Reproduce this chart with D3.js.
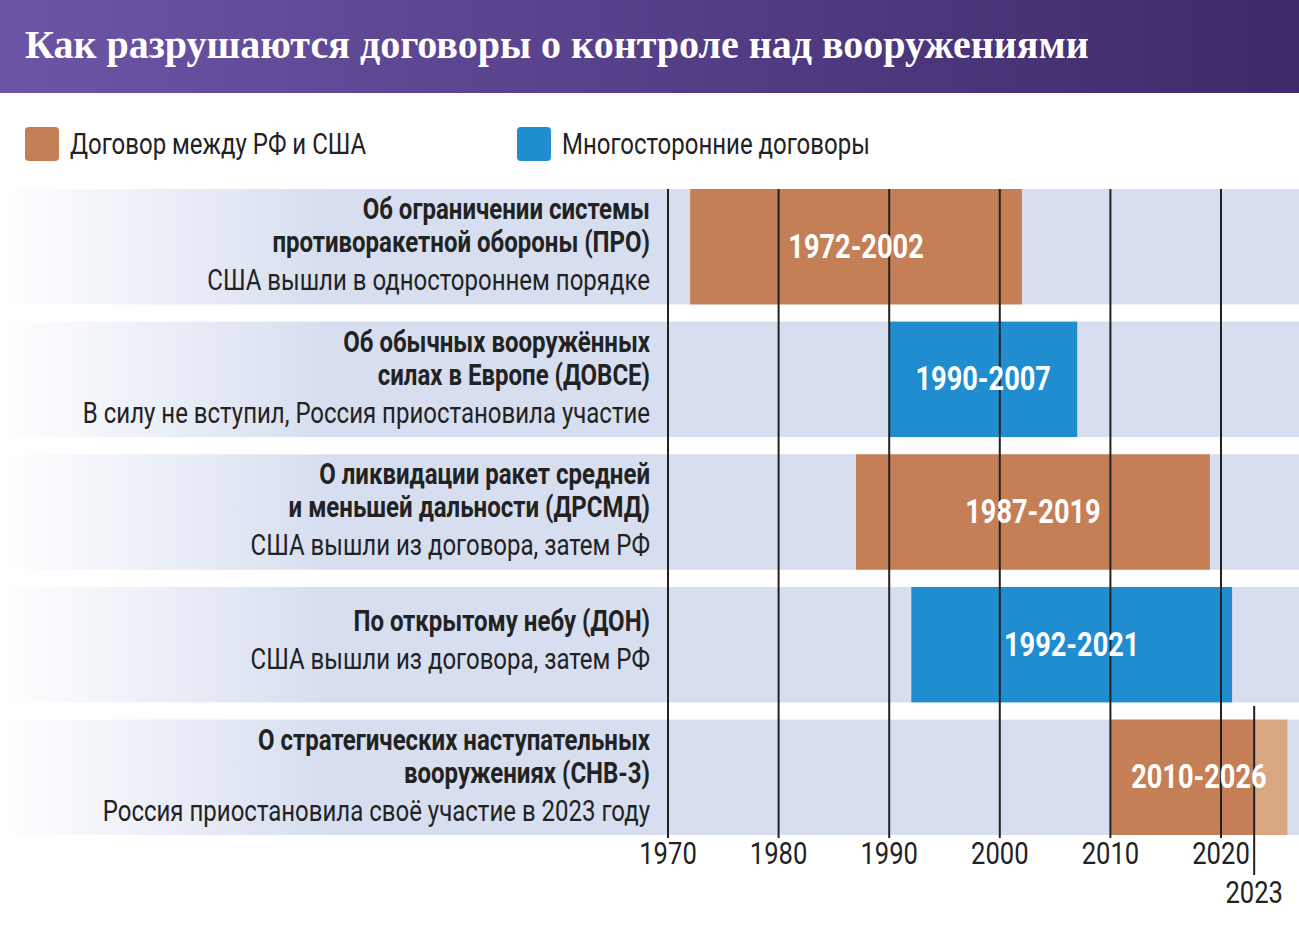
<!DOCTYPE html>
<html><head><meta charset="utf-8">
<script src="https://cdn.jsdelivr.net/npm/d3@7"></script>
<style>body{margin:0;background:#fff}svg{display:block}</style>
</head><body>
<svg id="chart" width="1299" height="934"></svg>
<script>
const treaties = [
    {title: ["Об ограничении системы", "противоракетной обороны (ПРО)"], note: "США вышли в одностороннем порядке", start: 1972, end: 2002, type: "bi"},
    {title: ["Об обычных вооружённых", "силах в Европе (ДОВСЕ)"], note: "В силу не вступил, Россия приостановила участие", start: 1990, end: 2007, type: "multi"},
    {title: ["О ликвидации ракет средней", "и меньшей дальности (ДРСМД)"], note: "США вышли из договора, затем РФ", start: 1987, end: 2019, type: "bi"},
    {title: ["По открытому небу (ДОН)"], note: "США вышли из договора, затем РФ", start: 1992, end: 2021, type: "multi"},
    {title: ["О стратегических наступательных", "вооружениях (СНВ-3)"], note: "Россия приостановила своё участие в 2023 году", start: 2010, end: 2026, suspended: 2023, type: "bi"}
];
const tickYears = [1970, 1980, 1990, 2000, 2010, 2020];
const markYear = 2023;
const legendItems = [
    {key: "bi", label: "Договор между РФ и США"},
    {key: "multi", label: "Многосторонние договоры"}
];
const colors = {bi: "#c47f56", multi: "#1f8dd0", faded: "#d9a883"};

const svg = d3.select("#chart");
const defs = svg.append("defs");

const tg = defs.append("linearGradient").attr("id", "titleGrad");
tg.append("stop").attr("offset", "0%").attr("stop-color", "#6c55a6");
tg.append("stop").attr("offset", "100%").attr("stop-color", "#3e2a6a");
const rg = defs.append("linearGradient").attr("id", "rowGrad")
    .attr("gradientUnits", "userSpaceOnUse").attr("x1", 0).attr("x2", 1299);
rg.append("stop").attr("offset", "0%").attr("stop-color", "#ffffff");
rg.append("stop").attr("offset", "25%").attr("stop-color", "#d6deef");
rg.append("stop").attr("offset", "100%").attr("stop-color", "#d6deef");

// title
svg.append("rect").attr("width", 1299).attr("height", 93).attr("fill", "url(#titleGrad)");
svg.append("text").attr("x", 25).attr("y", 58)
    .attr("fill", "#fff").style("font-family", "Liberation Serif").style("font-weight", "bold")
    .style("font-size", "40px")
    .text("Как разрушаются договоры о контроле над вооружениями");

// legend
const legend = svg.append("g");
legendItems.forEach((d, i) => {
    const gx = i === 0 ? 25 : 517;
    legend.append("rect").attr("x", gx).attr("y", 127).attr("width", 34).attr("height", 34)
        .attr("rx", 4).attr("fill", colors[d.key]);
    condText(legend, gx + 45, 154, d.label, 30, "normal", "#222", "start");
});

const x = d3.scaleLinear().domain([1970, 2020]).range([668, 1221]);
const y = d3.scaleBand().domain(d3.range(treaties.length)).range([189, 835]).paddingInner(0.13);

function condText(g, tx, ty, str, size, weight, fill, anchor) {
    return g.append("text")
        .attr("transform", `translate(${tx},${ty}) scale(0.8,1)`)
        .attr("text-anchor", anchor)
        .style("font-family", "Roboto").style("font-size", size + "px")
        .style("font-weight", weight).attr("fill", fill).text(str);
}

// row backgrounds
svg.append("g").selectAll("rect").data(treaties).join("rect")
    .attr("x", 10).attr("width", 1289)
    .attr("y", (d, i) => y(i)).attr("height", y.bandwidth())
    .attr("fill", "url(#rowGrad)");

// bars
const bars = svg.append("g");
treaties.forEach((d, i) => {
    const stop = d.suspended || d.end;
    bars.append("rect").attr("x", x(d.start)).attr("y", y(i))
        .attr("width", x(stop) - x(d.start)).attr("height", y.bandwidth())
        .attr("fill", colors[d.type]);
    if (d.suspended) {
        bars.append("rect").attr("x", x(d.suspended)).attr("y", y(i))
            .attr("width", x(d.end) - x(d.suspended)).attr("height", y.bandwidth())
            .attr("fill", colors.faded);
    }
});

// gridlines
const grid = svg.append("g");
tickYears.forEach(t => {
    grid.append("line").attr("x1", x(t)).attr("x2", x(t))
        .attr("y1", 189).attr("y2", 838).attr("stroke", "#222").attr("stroke-width", 2);
    condText(grid, x(t), 864, t, 32, "normal", "#222", "middle");
});
grid.append("line").attr("x1", x(markYear)).attr("x2", x(markYear))
    .attr("y1", 706).attr("y2", 875).attr("stroke", "#222").attr("stroke-width", 2);
condText(grid, x(markYear), 903, markYear, 32, "normal", "#222", "middle");

// bar labels
treaties.forEach((d, i) => {
    condText(svg, (x(d.start) + x(d.end)) / 2, y(i) + y.bandwidth() / 2 + 11,
        `${d.start}-${d.end}`, 34, "bold", "#fff", "middle");
});

// row texts
treaties.forEach((d, i) => {
    const top = y(i);
    let ty = d.title.length === 2 ? top + 30 : top + 44;
    d.title.forEach(line => {
        condText(svg, 650, ty, line, 30, "bold", "#222", "end");
        ty += 33;
    });
    condText(svg, 650, ty + 5, d.note, 30, "normal", "#222", "end");
});
</script>
</body></html>
